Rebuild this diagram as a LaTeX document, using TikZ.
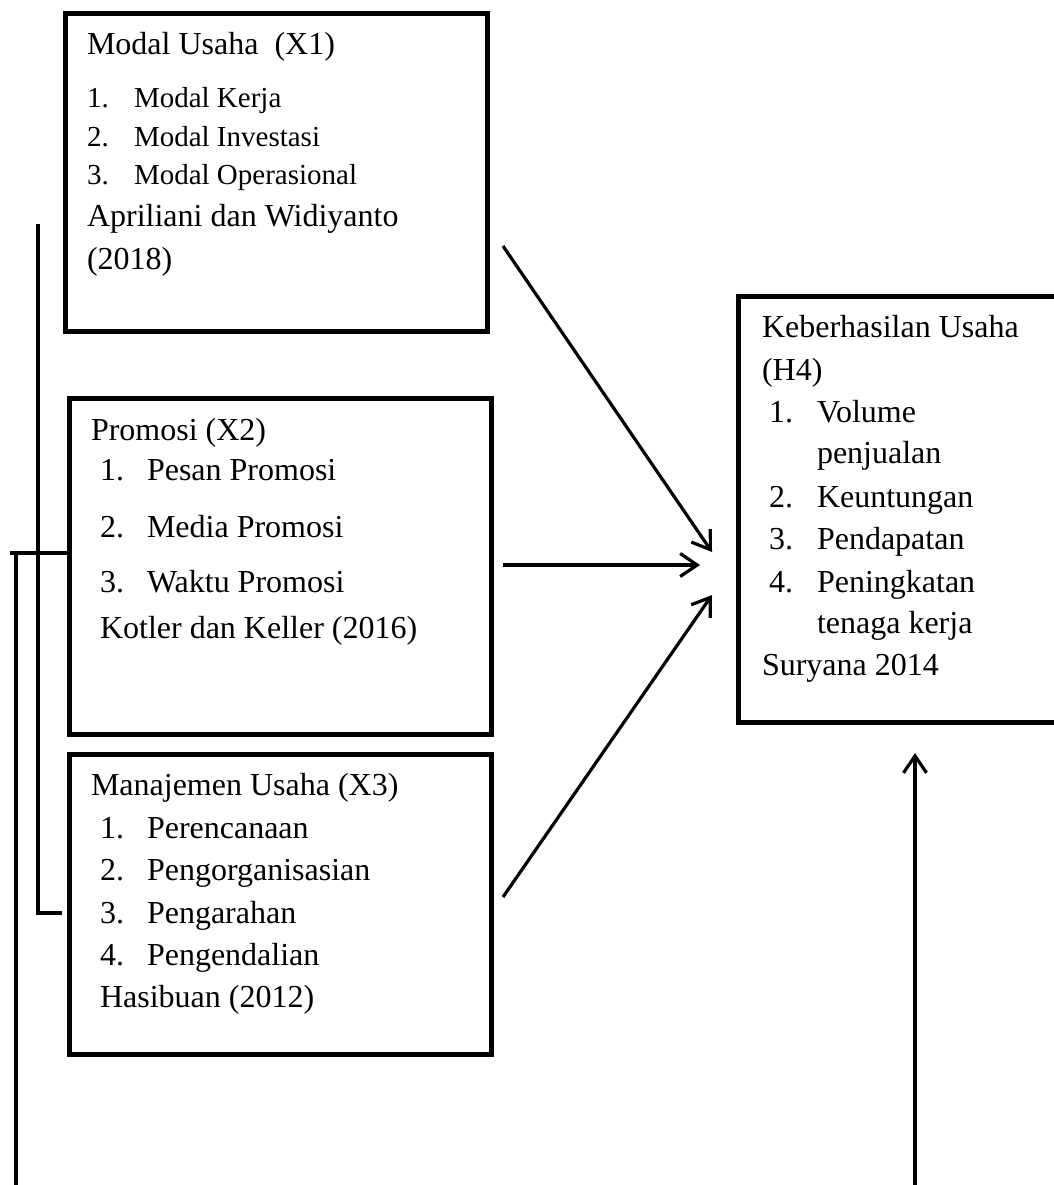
\documentclass[tikz,border=0pt]{standalone}
\usepackage{fontspec}
\setmainfont{Liberation Serif}
\usetikzlibrary{arrows.meta}
\begin{document}
\begin{tikzpicture}[x=1pt,y=-1pt,
  box/.style={draw, line width=5pt, rectangle, anchor=north west, inner sep=0pt, outer sep=0pt},
  txt/.style={anchor=base west, inner sep=0pt, outer sep=0pt, font=\fontsize{32}{38}\selectfont},
  stxt/.style={anchor=base west, inner sep=0pt, outer sep=0pt, font=\fontsize{29}{35}\selectfont},
  conn/.style={line width=3.5pt},
  arr/.style={line width=3.2pt, -{Straight Barb[length=17pt,width=23pt,line width=3.2pt]}}]
\useasboundingbox (0,0) rectangle (1053,1185);

% boxes
\node[box, minimum width=422pt, minimum height=317pt] (b1) at (65,14) {};
\node[box, minimum width=422pt, minimum height=336pt] (b2) at (69,398) {};
\node[box, minimum width=422pt, minimum height=300pt] (b3) at (69,754) {};
\node[box, minimum width=330pt, minimum height=426pt] (b4) at (738,296) {};

% box 1 texts
\node[txt] (t1h) at (87,55) {Modal Usaha~ (X1)};
\node[stxt] (t1n1) at (87,108) {1.};
\node[stxt] (t1i1) at (134,108) {Modal Kerja};
\node[stxt] (t1n2) at (87,147) {2.};
\node[stxt] (t1i2) at (134,147) {Modal Investasi};
\node[stxt] (t1n3) at (87,185) {3.};
\node[stxt] (t1i3) at (134,185) {Modal Operasional};
\node[txt] (t1s1) at (87,226) {Apriliani dan Widiyanto};
\node[txt] (t1s2) at (87,269) {(2018)};

% box 2 texts
\node[txt] (t2h) at (91,440) {Promosi (X2)};
\node[txt] (t2n1) at (100,480) {1.};
\node[txt] (t2i1) at (147,480) {Pesan Promosi};
\node[txt] (t2n2) at (100,537) {2.};
\node[txt] (t2i2) at (147,537) {Media Promosi};
\node[txt] (t2n3) at (100,592) {3.};
\node[txt] (t2i3) at (147,592) {Waktu Promosi};
\node[txt] (t2s) at (100,638) {Kotler dan Keller (2016)};

% box 3 texts
\node[txt] (t3h) at (91,795) {Manajemen Usaha (X3)};
\node[txt] (t3n1) at (100,838) {1.};
\node[txt] (t3i1) at (147,838) {Perencanaan};
\node[txt] (t3n2) at (100,880) {2.};
\node[txt] (t3i2) at (147,880) {Pengorganisasian};
\node[txt] (t3n3) at (100,923) {3.};
\node[txt] (t3i3) at (147,923) {Pengarahan};
\node[txt] (t3n4) at (100,965) {4.};
\node[txt] (t3i4) at (147,965) {Pengendalian};
\node[txt] (t3s) at (100,1007) {Hasibuan (2012)};

% box 4 texts
\node[txt] (t4h1) at (762,337) {Keberhasilan Usaha};
\node[txt] (t4h2) at (762,380) {(H4)};
\node[txt] (t4n1) at (769,422) {1.};
\node[txt] (t4i1a) at (817,422) {Volume};
\node[txt] (t4i1b) at (817,463) {penjualan};
\node[txt] (t4n2) at (769,507) {2.};
\node[txt] (t4i2) at (817,507) {Keuntungan};
\node[txt] (t4n3) at (769,549) {3.};
\node[txt] (t4i3) at (817,549) {Pendapatan};
\node[txt] (t4n4) at (769,592) {4.};
\node[txt] (t4i4a) at (817,592) {Peningkatan};
\node[txt] (t4i4b) at (817,633) {tenaga kerja};
\node[txt] (t4s) at (762,675) {Suryana 2014};

% connector coordinates
\coordinate (a1s) at (503,246);
\coordinate (a1e) at (712,552);
\coordinate (a2s) at (503,565);
\coordinate (a2e) at (700,565);
\coordinate (a3s) at (503,897);
\coordinate (a3e) at (712,595);
\coordinate (rs) at (915,1192);
\coordinate (re) at (915,753);
\coordinate (v1top) at (38,224);
\coordinate (v1bot) at (38,913);
\coordinate (v1tick) at (62,913);
\coordinate (hl) at (10,553);
\coordinate (v2top) at (16,553);
\coordinate (v2bot) at (16,1192);

% arrows
\draw[arr] (a1s) -- (a1e);
\draw[arr] (a2s) -- (a2e);
\draw[arr] (a3s) -- (a3e);
\draw[arr] (rs) -- (re);

% left connectors
\draw[conn] (v1top) -- (v1bot) -- (v1tick);
\draw[conn] (hl) -- (b2.west |- hl);
\draw[conn] (v2top) -- (v2bot);
\end{tikzpicture}
\end{document}
